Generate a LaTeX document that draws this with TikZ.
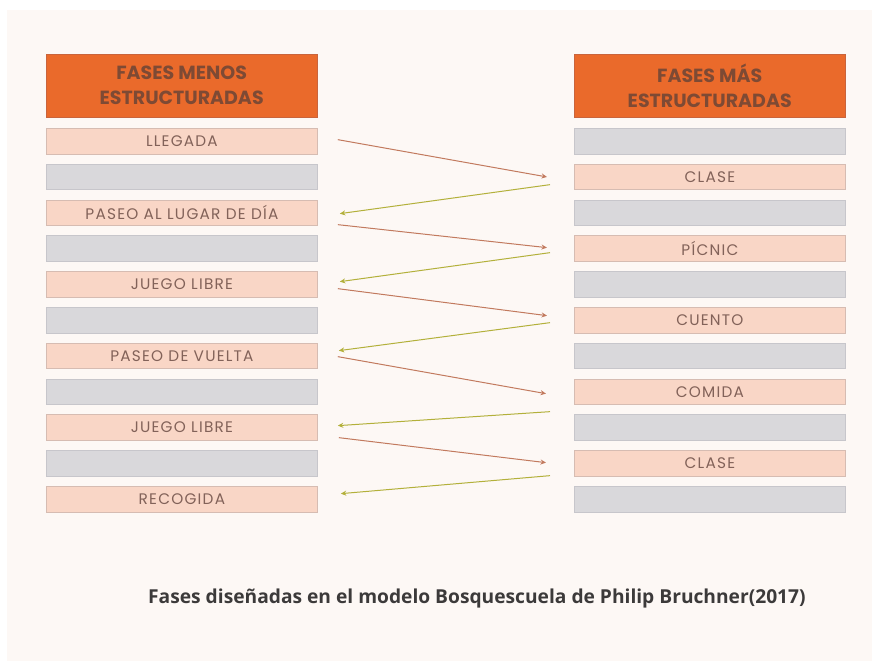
\documentclass[tikz,border=0pt]{standalone}
\usepackage{fontspec}
\setmainfont{Poppins}
\newfontfamily\rowfont{Poppins}[LetterSpace=8]
\newfontfamily\capfont{Open Sans}
\usetikzlibrary{arrows.meta,calc}
\definecolor{bgc}{HTML}{FDF8F5}
\definecolor{hdrfill}{HTML}{EA6A2B}
\definecolor{hdrline}{HTML}{C9643C}
\definecolor{hdrtext}{HTML}{7E4A34}
\definecolor{pkfill}{HTML}{F9D6C6}
\definecolor{pkline}{HTML}{D6BCB2}
\definecolor{gyfill}{HTML}{D9D8DB}
\definecolor{gyline}{HTML}{C7C6CB}
\definecolor{rowtext}{HTML}{826259}
\definecolor{oarr}{HTML}{C27A5E}
\definecolor{garr}{HTML}{B3B03A}
\definecolor{captext}{HTML}{3C3A3A}
\begin{document}
\begin{tikzpicture}[x=1pt,y=-1pt,
  hdr/.style={draw=hdrline, fill=hdrfill, minimum width=271pt, minimum height=63pt, inner sep=0pt, font=\bfseries\fontsize{19}{25}\selectfont, text=hdrtext, align=center, anchor=north west},
  pk/.style={draw=pkline, line width=0.8pt, fill=pkfill, minimum width=271pt, minimum height=25.5pt, inner sep=0pt, font=\rowfont\fontsize{15.3}{17}\selectfont, text=rowtext, anchor=north west},
  gy/.style={pk, draw=gyline, fill=gyfill},
  oar/.style={draw=oarr, line width=1pt, -{Stealth[length=5.5pt,width=5pt]}},
  gar/.style={draw=garr, line width=1pt, -{Stealth[length=5.5pt,width=5pt]}}
]
\useasboundingbox (0,0) rectangle (872,661);
\fill[white] (0,0) rectangle (872,661);
\fill[bgc] (7,10) rectangle (872,661);

% headers
\node[hdr] (hl) at (46,54) {FASES MENOS\\ESTRUCTURADAS};
\node[hdr] (hr) at (574,54) {FASES MÁS\\ESTRUCTURADAS};

% left column
\node[pk] (L0) at (46,128) {LLEGADA};
\node[gy] (L1) at (46,163.8) {};
\node[pk] (L2) at (46,199.6) {PASEO AL LUGAR DE DÍA};
\node[gy] (L3) at (46,235.4) {};
\node[pk] (L4) at (46,271.2) {JUEGO LIBRE};
\node[gy] (L5) at (46,307) {};
\node[pk] (L6) at (46,342.8) {PASEO DE VUELTA};
\node[gy] (L7) at (46,378.6) {};
\node[pk] (L8) at (46,414.4) {JUEGO LIBRE};
\node[gy] (L9) at (46,450.2) {};
\node[pk] (L10) at (46,486) {RECOGIDA};

% right column
\node[gy] (R0) at (574,128) {};
\node[pk] (R1) at (574,163.8) {CLASE};
\node[gy] (R2) at (574,199.6) {};
\node[pk] (R3) at (574,235.4) {PÍCNIC};
\node[gy] (R4) at (574,271.2) {};
\node[pk] (R5) at (574,307) {CUENTO};
\node[gy] (R6) at (574,342.8) {};
\node[pk] (R7) at (574,378.6) {COMIDA};
\node[gy] (R8) at (574,414.4) {};
\node[pk] (R9) at (574,450.2) {CLASE};
\node[gy] (R10) at (574,486) {};

% arrows
\draw[oar] ($(L0.east)+(20,-1.5)$) -- ($(R1.west)+(-27,0)$);
\draw[gar] ($(R1.west)+(-24,7.7)$) -- ($(L2.east)+(22,0.9)$);
\draw[oar] ($(L2.east)+(20,11.9)$) -- ($(R3.west)+(-27,-0.9)$);
\draw[gar] ($(R3.west)+(-24,4.1)$) -- ($(L4.east)+(22,-2.7)$);
\draw[oar] ($(L4.east)+(20,4.3)$) -- ($(R5.west)+(-27,-4.5)$);
\draw[gar] ($(R5.west)+(-24,2.5)$) -- ($(L6.east)+(21,-5.3)$);
\draw[oar] ($(L6.east)+(20,0.7)$) -- ($(R7.west)+(-28,1.9)$);
\draw[gar] ($(R7.west)+(-24,19.9)$) -- ($(L8.east)+(20,-1.9)$);
\draw[oar] ($(L8.east)+(21,10.1)$) -- ($(R9.west)+(-28,-0.7)$);
\draw[gar] ($(R9.west)+(-24,12.3)$) -- ($(L10.east)+(23,-5.5)$);

% caption
\node[font=\capfont\bfseries\fontsize{19.2}{22}\selectfont, text=captext, anchor=west, inner sep=0pt] (cap) at (148,599) {Fases diseñadas en el modelo Bosquescuela de Philip Bruchner(2017)};
\end{tikzpicture}
\end{document}
